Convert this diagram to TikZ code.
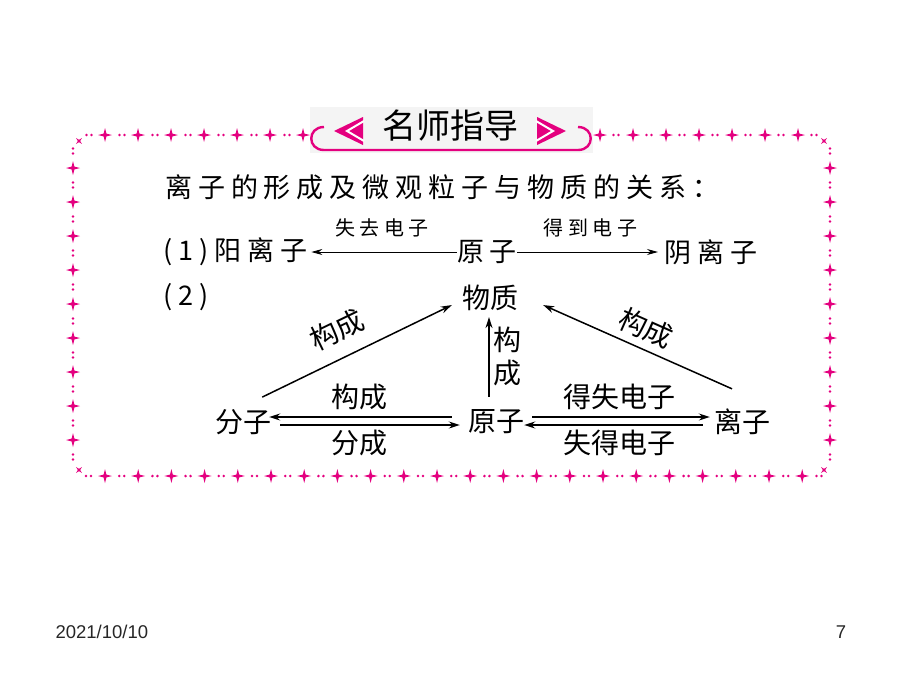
\documentclass[tikz,border=0pt]{standalone}
\usepackage{fontspec}
\setmainfont{Liberation Sans}
\newfontfamily\cjk{Noto Sans CJK SC}
\newfontfamily\cjksp[LetterSpace=22]{Noto Sans CJK SC}
\usetikzlibrary{arrows.meta,calc}
\definecolor{rose}{HTML}{E4007F}
\definecolor{badgebg}{HTML}{F4F4F4}
\tikzset{
  ttl/.style={inner sep=0pt,font=\cjk\fontsize{34}{40}\selectfont},
  txt/.style={inner sep=0pt,font=\cjk\fontsize{28}{33}\selectfont},
  stxt/.style={inner sep=0pt,font=\cjksp\fontsize{27}{33}\selectfont},
  small/.style={inner sep=0pt,font=\cjksp\fontsize{20}{24}\selectfont},
  arr/.style={-{Stealth[length=11pt,width=7pt]},line width=1.5pt},
  thinarr/.style={-{Stealth[length=11pt,width=6pt]},line width=0.9pt},
  spark/.pic={\fill[rose] (0,-7)--(1.4,-1.4)--(7,0)--(1.4,1.4)--(0,7)--(-1.4,1.4)--(-7,0)--(-1.4,-1.4)--cycle;}
}
\begin{document}
\begin{tikzpicture}[x=1pt,y=-1pt]
  \useasboundingbox (0,0) rectangle (900,675);
  % badge and frame
  \fill[badgebg] (310,107) rectangle (593,153);
  \foreach \x in {105,138,...,303} \pic at (\x,135) {spark};
  \foreach \x in {600,633,...,798} \pic at (\x,135) {spark};
  \foreach \x in {89,122,...,287} \fill[rose] (\x-2.5,135) circle (1.4) (\x+2.5,135) circle (1.4);
  \foreach \x in {616,649,...,814} \fill[rose] (\x-2.5,135) circle (1.4) (\x+2.5,135) circle (1.4);
  \foreach \k in {0,...,21} \pic at (105+33.2*\k,476) {spark};
  \foreach \k in {0,...,22} \fill[rose] (86+33.2*\k,476) circle (1.4) (91+33.2*\k,476) circle (1.4);
  \foreach \y in {168,202,...,440} {
    \pic at (73,\y) {spark};
    \pic at (830,\y) {spark};
  }
  \foreach \y in {151,185,...,457} \fill[rose] (73,\y-2.5) circle (1.4) (73,\y+2.5) circle (1.4)
    (830,\y-2.5) circle (1.4) (830,\y+2.5) circle (1.4);
  \foreach \p in {(79,141),(824,141),(824,470),(79,470)} \pic[rotate=45,scale=0.6] at \p {spark};
  \draw[rose,line width=2.4pt] (324,127) .. controls (307,127) and (307,150) .. (324,150)
    -- (578,150) .. controls (595,150) and (595,127) .. (578,127);
  \fill[rose] (363,117) -- (334,131) -- (363,145) -- cycle;
  \draw[white,line width=2pt] (364,121) -- (347,131) -- (364,141);
  \fill[rose] (537,117) -- (566,131) -- (537,145) -- cycle;
  \draw[white,line width=2pt] (536,121) -- (553,131) -- (536,141);
  \node[ttl] (title) at (450,126) {名师指导};

  \node[stxt,anchor=west] (intro) at (165,187) {离子的形成及微观粒子与物质的关系：};
  \node[stxt,anchor=west] (cation) at (163,252) {(1)阳离子};
  \node[stxt] (atomA) at (487,252) {原子};
  \node[stxt,anchor=west] (anion) at (664,252) {阴离子};
  \draw[thinarr,shorten >=4pt] (atomA.west) -- node[small,above=14pt] {失去电子} (cation.east);
  \draw[thinarr,shorten >=6pt] (atomA.east) -- node[small,above=14pt] {得到电子} (anion.west);

  \node[stxt,anchor=west] (two) at (163,297) {(2)};
  \node[txt] (matter) at (490,298) {物质};
  \node[txt] (mol) at (243,422) {分子};
  \node[txt] (atom) at (496,422) {原子};
  \node[txt] (ion) at (742,422) {离子};

  \draw[arr] ([xshift=-9pt,yshift=12pt]mol.north east) --
    node[txt,sloped,above=14pt,pos=0.46] {构成} ([xshift=-10pt,yshift=6pt]matter.south west);
  \draw[arr] ([xshift=-7pt,yshift=13pt]atom.north) --
    node[txt,right=4pt,align=center] {构\\成} ([xshift=-1pt,yshift=-6pt]matter.south);
  \draw[arr] ([xshift=-10pt,yshift=20pt]ion.north) --
    node[txt,sloped,above=7pt] {构成} ([xshift=25pt,yshift=6pt]matter.south east);

  \draw[arr,shorten <=16pt,shorten >=-2pt] ([yshift=5pt]atom.west) --
    node[txt,above=6pt,pos=0.55] {构成} ([yshift=5pt]mol.east);
  \draw[arr,shorten <=9pt,shorten >=8pt] ([yshift=-3pt]mol.east) --
    node[txt,below=4pt,pos=0.45] {分成} ([yshift=-3pt]atom.west);
  \draw[arr,shorten <=8pt,shorten >=4pt] ([yshift=5pt]atom.east) --
    node[txt,above=6pt] {得失电子} ([yshift=5pt]ion.west);
  \draw[arr,shorten <=11pt] ([yshift=-3pt]ion.west) --
    node[txt,below=4pt] {失得电子} ([yshift=-3pt]atom.east);

  \node[anchor=west,text=black!85,font=\fontsize{18.5}{22}\selectfont] (date) at (52,632) {2021/10/10};
  \node[text=black!85,font=\fontsize{18.5}{22}\selectfont] (page) at (841,632) {7};
\end{tikzpicture}
\end{document}
